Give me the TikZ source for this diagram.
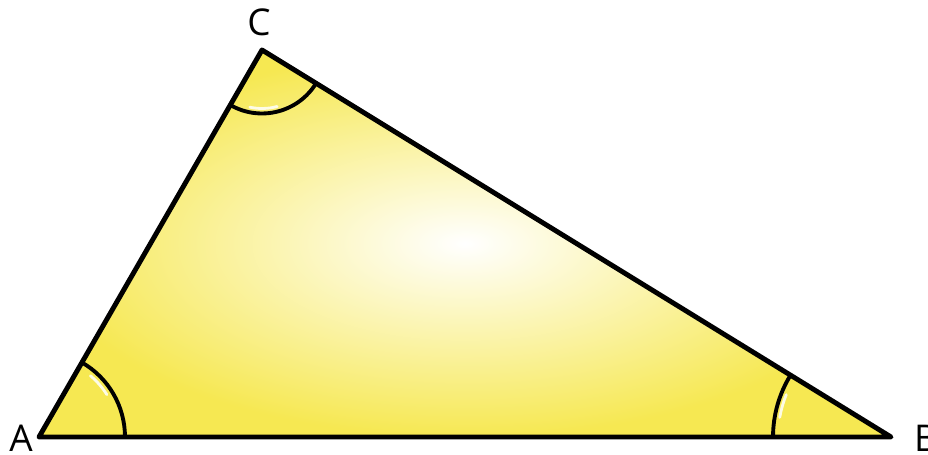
\documentclass[tikz,border=0pt]{standalone}
\usepackage{fontspec}
\setmainfont{Open Sans}
\usepackage{xcolor}
\usetikzlibrary{angles,calc}

\definecolor{triyellow}{RGB}{246,232,82}

\begin{document}
\begin{tikzpicture}[
  x=0.02cm, y=0.02cm,
  side/.style={line width=2.8pt, line join=round},
  corner/.style={draw, line width=2.2pt},
  gloss/.style={white, line width=1.6pt, line cap=round, opacity=0.85},
  vlabel/.style={font=\fontsize{21}{24}\selectfont, inner sep=0pt},
]
  \useasboundingbox (0,0) rectangle (928,455);

  \coordinate (A) at (39,18);
  \coordinate (B) at (891,18);
  \coordinate (C) at (262,405);

  % shaded face
  \shade[inner color=white, outer color=triyellow] (A) -- (B) -- (C) -- cycle;

  % angle marks
  \pic[corner, angle radius=1.72cm] {angle=B--A--C};
  \pic[corner, angle radius=1.27cm] {angle=A--C--B};
  \pic[corner, angle radius=2.36cm] {angle=C--B--A};

  % small highlights on the marks
  \draw[gloss] ($(A)+(32:1.6cm)$) arc (32:50:1.6cm);
  \draw[gloss] ($(C)+(258:1.17cm)$) arc (258:285:1.17cm);
  \draw[gloss] ($(B)+(158:2.26cm)$) arc (158:170:2.26cm);

  \draw[side] (A) -- (B) -- (C) -- cycle;

  \node[vlabel] (la) at (21,17) {A};
  \node[vlabel] (lb) at (926,17) {B};
  \node[vlabel] (lc) at (259,433) {C};
\end{tikzpicture}
\end{document}
